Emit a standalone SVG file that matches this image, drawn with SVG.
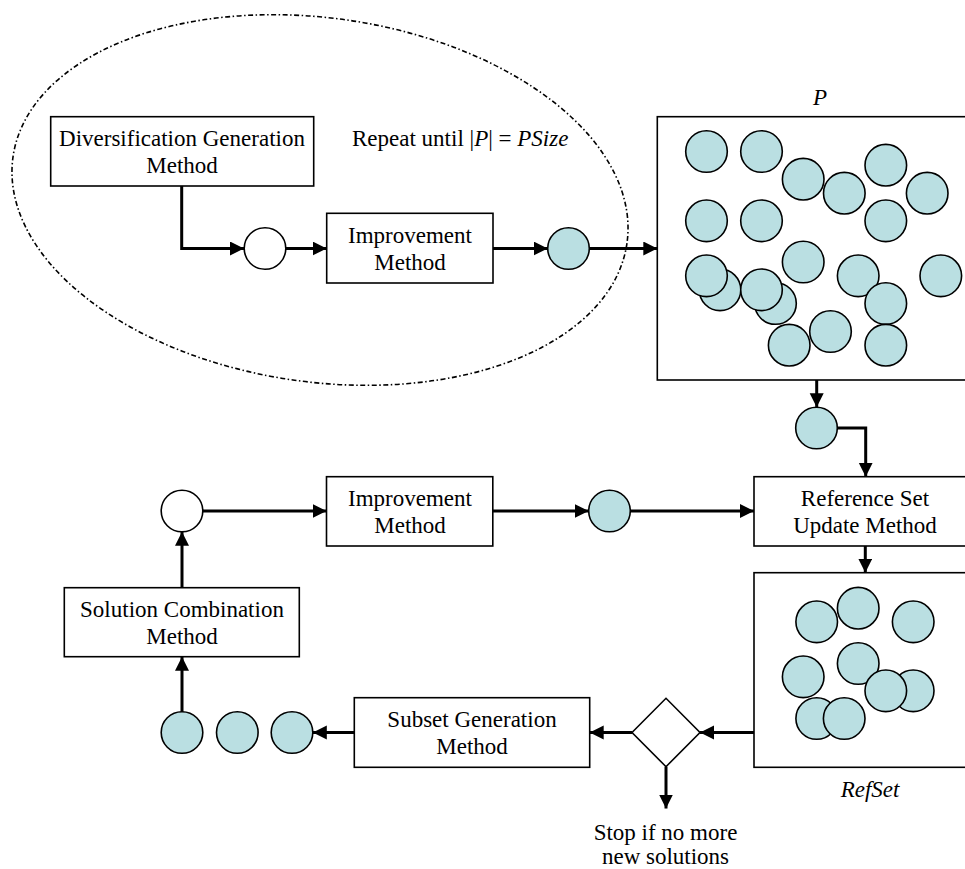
<svg xmlns="http://www.w3.org/2000/svg" width="965" height="869" viewBox="0 0 965 869">
<style>
.box{fill:#fff;stroke:#000;stroke-width:1.6}
.t{font-family:"Liberation Serif","Times New Roman",serif;font-size:23px;fill:#000;text-anchor:middle}
.s{text-anchor:start}
.i{font-style:italic}
.c{fill:#BADFE2;stroke:#000;stroke-width:1.6}
.w{fill:#fff;stroke:#000;stroke-width:1.6}
.ln{fill:none;stroke:#000;stroke-width:3}
</style>
<defs>
<marker id="ah" markerUnits="userSpaceOnUse" markerWidth="15" markerHeight="15" refX="14" refY="7" orient="auto">
<path d="M0,0 L14,7 L0,14 z" fill="#000"/>
</marker>
</defs>
<rect width="965" height="869" fill="#fff"/>

<g id="loop">
<ellipse cx="320" cy="200" rx="310" ry="182" transform="rotate(8 320 200)" fill="none" stroke="#000" stroke-width="1.6" stroke-dasharray="5 2.5 1.5 2.5"/>
<text class="t s" x="352" y="146">Repeat until |<tspan class="i">P</tspan>| = <tspan class="i">PSize</tspan></text>
</g>

<g id="diversification">
<rect class="box" x="50.7" y="116.7" width="263" height="69.3"/>
<text class="t" x="182" y="146.4">Diversification Generation</text>
<text class="t" x="182" y="173">Method</text>
</g>
<g id="circle1"><circle class="w" cx="265" cy="248.5" r="20.8"/></g>
<g id="improvement1">
<rect class="box" x="326.7" y="213.3" width="166.3" height="69.7"/>
<text class="t" x="410" y="243">Improvement</text>
<text class="t" x="410" y="269.6">Method</text>
</g>
<g id="circle2"><circle class="c" cx="568.5" cy="248.5" r="20.8"/></g>

<g id="P">
<text class="t i" x="820" y="105">P</text>
<rect class="box" x="657.3" y="116.7" width="320" height="263.3"/>
<circle class="c" cx="706.5" cy="151.5" r="20.8"/>
<circle class="c" cx="761.5" cy="151.5" r="20.8"/>
<circle class="c" cx="803.2" cy="179.2" r="20.8"/>
<circle class="c" cx="844.3" cy="193.2" r="20.8"/>
<circle class="c" cx="885.8" cy="165.2" r="20.8"/>
<circle class="c" cx="927.2" cy="193.2" r="20.8"/>
<circle class="c" cx="706.5" cy="220.8" r="20.8"/>
<circle class="c" cx="761.5" cy="220.8" r="20.8"/>
<circle class="c" cx="885.8" cy="220.8" r="20.8"/>
<circle class="c" cx="803.2" cy="262" r="20.8"/>
<circle class="c" cx="720" cy="289.8" r="20.8"/>
<circle class="c" cx="706.5" cy="275.8" r="20.8"/>
<circle class="c" cx="775.5" cy="303.5" r="20.8"/>
<circle class="c" cx="761.5" cy="289.8" r="20.8"/>
<circle class="c" cx="858.2" cy="275.8" r="20.8"/>
<circle class="c" cx="885.8" cy="303.5" r="20.8"/>
<circle class="c" cx="940.8" cy="275.8" r="20.8"/>
<circle class="c" cx="789.2" cy="345.2" r="20.8"/>
<circle class="c" cx="830.5" cy="331.5" r="20.8"/>
<circle class="c" cx="885.8" cy="345.2" r="20.8"/>
</g>

<g id="circle3"><circle class="c" cx="816.5" cy="428" r="20.8"/></g>

<g id="refupdate">
<rect class="box" x="754" y="476.7" width="220" height="69.3"/>
<text class="t" x="865" y="506.4">Reference Set</text>
<text class="t" x="865" y="533">Update Method</text>
</g>

<g id="RefSet">
<rect class="box" x="754" y="572.7" width="220" height="194.6"/>
<circle class="c" cx="816.7" cy="621.8" r="20.8"/>
<circle class="c" cx="858.2" cy="608.2" r="20.8"/>
<circle class="c" cx="913.2" cy="621.8" r="20.8"/>
<circle class="c" cx="803.2" cy="676.8" r="20.8"/>
<circle class="c" cx="858.2" cy="663.5" r="20.8"/>
<circle class="c" cx="913.2" cy="690.8" r="20.8"/>
<circle class="c" cx="885.8" cy="690.8" r="20.8"/>
<circle class="c" cx="816.7" cy="718.5" r="20.8"/>
<circle class="c" cx="844.2" cy="718.5" r="20.8"/>
<text class="t i" x="870" y="797">RefSet</text>
</g>

<g id="decision">
<polygon points="632,732.5 666,698.3 700,732.5 666,766.7" fill="#fff" stroke="#000" stroke-width="1.6"/>
<text class="t" x="665.5" y="840">Stop if no more</text>
<text class="t" x="665.5" y="864">new solutions</text>
</g>

<g id="subset">
<rect class="box" x="354.3" y="697.7" width="235.4" height="69.6"/>
<text class="t" x="472" y="727.4">Subset Generation</text>
<text class="t" x="472" y="754">Method</text>
</g>

<g id="subsets">
<circle class="c" cx="182" cy="732.5" r="20.8"/>
<circle class="c" cx="237.3" cy="732.5" r="20.8"/>
<circle class="c" cx="292" cy="732.5" r="20.8"/>
</g>

<g id="combination">
<rect class="box" x="64.3" y="587.7" width="235" height="69"/>
<text class="t" x="182" y="617.4">Solution Combination</text>
<text class="t" x="182" y="644">Method</text>
</g>

<g id="circle4"><circle class="w" cx="182" cy="511" r="20.8"/></g>

<g id="improvement2">
<rect class="box" x="326.5" y="476.7" width="166.3" height="69.3"/>
<text class="t" x="410" y="506.4">Improvement</text>
<text class="t" x="410" y="533">Method</text>
</g>

<g id="circle5"><circle class="c" cx="609.5" cy="511" r="20.8"/></g>

<g id="connectors">
<path class="ln" d="M181.7,186 V248.5 H244" marker-end="url(#ah)"/>
<path class="ln" d="M286,248.5 H326.7" marker-end="url(#ah)"/>
<path class="ln" d="M493,248.5 H547.7" marker-end="url(#ah)"/>
<path class="ln" d="M589.3,248.5 H657.3" marker-end="url(#ah)"/>
<path class="ln" d="M816.7,380 V407.2" marker-end="url(#ah)"/>
<path class="ln" d="M837.3,428 H865.7 V476.7" marker-end="url(#ah)"/>
<path class="ln" d="M865.3,546 V572.7" marker-end="url(#ah)"/>
<path class="ln" d="M754,732.5 H700" marker-end="url(#ah)"/>
<path class="ln" d="M632,732.5 H589.7" marker-end="url(#ah)"/>
<path class="ln" d="M666,766.7 V808.5" marker-end="url(#ah)"/>
<path class="ln" d="M354.3,732.5 H312.8" marker-end="url(#ah)"/>
<path class="ln" d="M182,711.7 V656.7" marker-end="url(#ah)"/>
<path class="ln" d="M182,587.7 V531.8" marker-end="url(#ah)"/>
<path class="ln" d="M202.8,511 H326.5" marker-end="url(#ah)"/>
<path class="ln" d="M492.8,511 H588.7" marker-end="url(#ah)"/>
<path class="ln" d="M630.3,511 H754" marker-end="url(#ah)"/>
</g>
</svg>
